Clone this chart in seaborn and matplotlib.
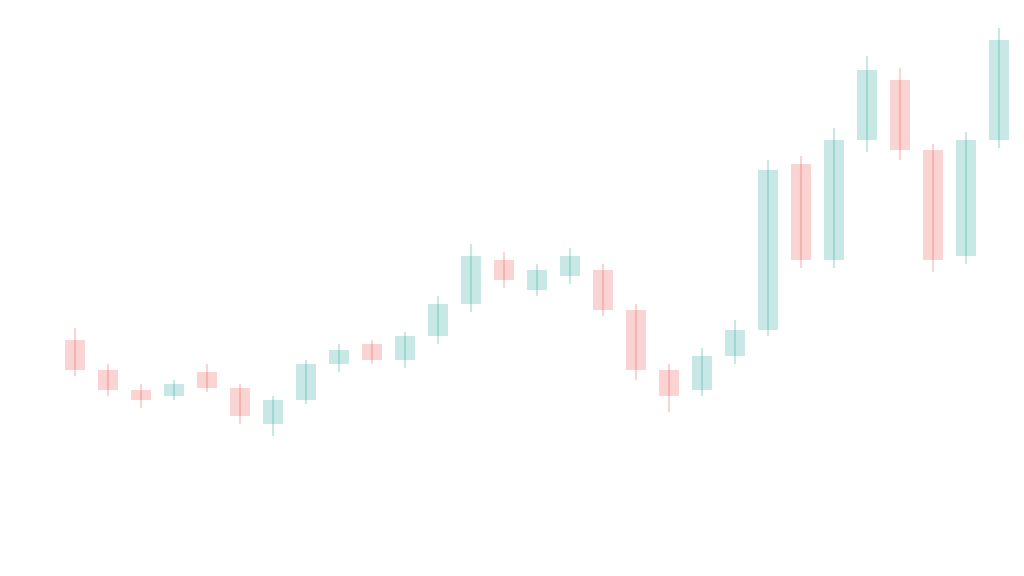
import numpy as np
import pandas as pd
import matplotlib
matplotlib.use("Agg")
import matplotlib.pyplot as plt
import seaborn as sns

# candle data (arbitrary price units)
opens = [59, 51.5, 46.5, 45, 51, 47, 38, 44, 53, 58, 54, 60, 68, 79, 71.5,
         75, 76.5, 66.5, 51.5, 46.5, 55, 61.5, 103, 79, 109, 124, 106.5, 80, 109]
closes = [51.5, 46.5, 44, 48, 47, 40, 44, 53, 56.5, 54, 60, 68, 80, 74, 76.5,
          80, 66.5, 51.5, 45, 55, 61.5, 101.5, 79, 109, 126.5, 106.5, 79, 109, 134]
highs = [62, 53, 48, 49, 53, 48, 45, 54, 58, 59, 61, 70, 83, 81, 78,
         82, 78, 68, 53, 57, 64, 104, 105, 112, 130, 127, 108, 111, 137]
lows = [50, 45, 42, 44, 46, 38, 35, 43, 51, 53, 52, 58, 66, 72, 70,
        73, 65, 49, 41, 45, 53, 60, 77, 77, 106, 104, 76, 78, 107]

df = pd.DataFrame({"open": opens, "close": closes, "high": highs, "low": lows})
df["up"] = df["close"] >= df["open"]

sns.set_theme(style="white")
fig = plt.figure(figsize=(10.24, 5.76), dpi=100)
ax = fig.add_axes([0, 0, 1, 1])

up_col = "#26a69a"
down_col = "#ef5350"
colors = [up_col if u else down_col for u in df["up"]]

x = np.arange(len(df))
ax.vlines(x, df["low"], df["high"], colors=colors, linewidth=1.5, alpha=0.25)
ax.bar(x, (df["close"] - df["open"]).abs(), bottom=df[["open", "close"]].min(axis=1),
       width=0.6, color=colors, alpha=0.25, linewidth=0)

ax.set_xlim(-2.27, 28.76)
ax.set_ylim(0, 144)
ax.axis("off")

plt.savefig("out.png", dpi=100)
plt.close()
